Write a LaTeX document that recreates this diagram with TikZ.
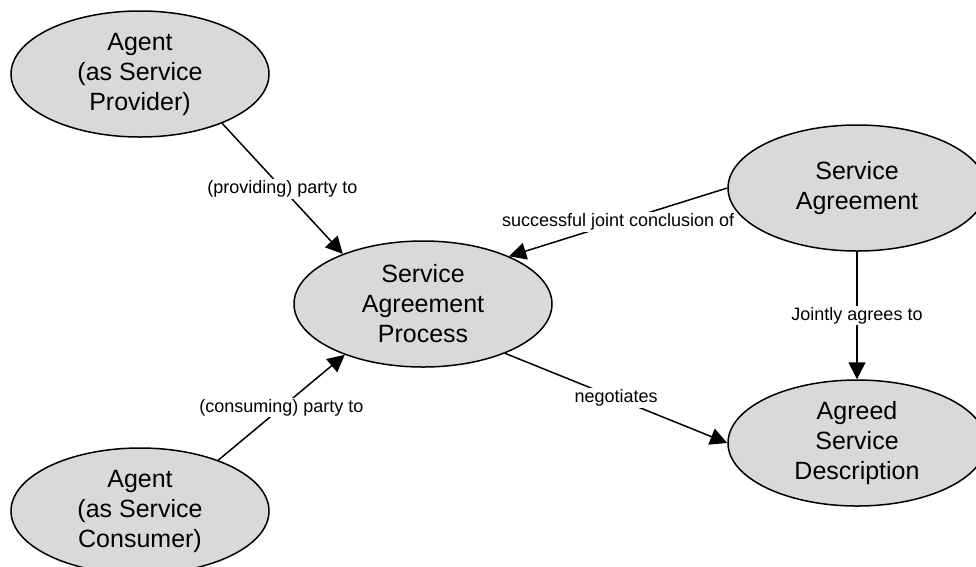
\documentclass[tikz,border=0pt]{standalone}
\usepackage{fontspec}
\setmainfont{Liberation Sans}
\usetikzlibrary{shapes.geometric,arrows.meta}

\begin{document}
\begin{tikzpicture}[x=1pt,y=1pt,
    concept/.style={ellipse, draw, line width=1.5pt, fill=gray!30,
      minimum width=258pt, minimum height=126pt, inner sep=0pt,
      align=center, font=\fontsize{25}{30}\selectfont},
    rel/.style={line width=1.5pt, -{Triangle[length=17pt,width=17pt]}},
    lbl/.style={fill=white, inner sep=1.5pt, font=\fontsize{18}{21}\selectfont}]
            \clip (0,0) rectangle (976,-566);
            \fill[white] (0,0) rectangle (976,-566);

            \node[concept] (prov) at (140,-74) {Agent\\(as Service\\Provider)};
            \node[concept] (cons) at (140,-511) {Agent\\(as Service\\Consumer)};
            \node[concept] (sap) at (423,-304) {Service\\Agreement\\Process};
            \node[concept] (sa) at (857,-188) {Service\\Agreement};
            \node[concept] (asd) at (857,-443) {Agreed\\Service\\Description};

            \draw[rel] (prov.-31) -- node[lbl] {(providing) party to} (sap.148);
            \draw[rel] (cons.33) -- node[lbl] {(consuming) party to} (sap.213);
            \draw[rel] (sa.west) -- node[lbl] {successful joint conclusion of} (sap.29);
            \draw[rel] (sap.-31) -- node[lbl] {negotiates} (asd.west);
            \draw[rel] (sa.south) -- node[lbl] {Jointly agrees to} (asd.north);
        \end{tikzpicture}
\end{document}
